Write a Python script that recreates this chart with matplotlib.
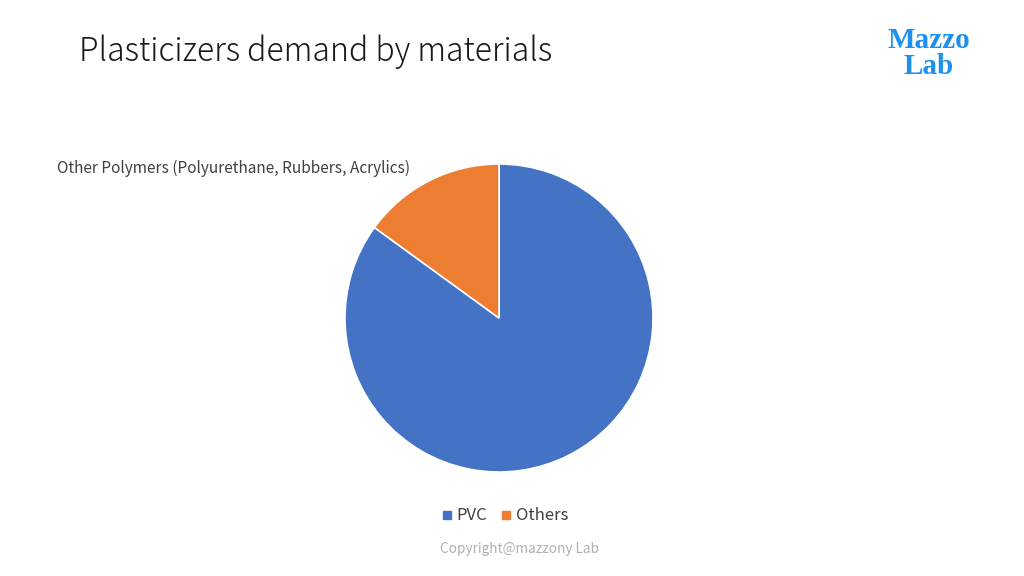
import matplotlib.pyplot as plt
from matplotlib.lines import Line2D

# data
categories = ["PVC", "Others"]
shares = [85, 15]
colors = ["#4472C4", "#ED7D31"]
slice_label = "Other Polymers (Polyurethane, Rubbers, Acrylics)"
title = "Plasticizers demand by materials"

plt.rcParams['font.family'] = ['Noto Sans CJK JP', 'DejaVu Sans']

W, H = 1024, 576
fig = plt.figure(figsize=(W / 100, H / 100), dpi=100)
fig.patch.set_facecolor("white")

# pie axes placed by pixel box
cx, cy, r = 499, 318, 154
ax = fig.add_axes([(cx - r) / W, (H - cy - r) / H, 2 * r / W, 2 * r / H])
ax.pie(shares, colors=colors, startangle=90, counterclock=False,
       wedgeprops=dict(edgecolor="white", linewidth=1.2))
ax.set_xlim(-1, 1)
ax.set_ylim(-1, 1)
ax.set_aspect("equal")
ax.axis("off")

fig.text(79 / W, 1 - 52 / H, title, fontsize=23, color="#1a1a1a",
         va="center", ha="left", fontweight="light")
fig.text(57 / W, 1 - 168 / H, slice_label, fontsize=11.1, color="#404040",
         va="center", ha="left")

# logo
fig.text(929 / W, 1 - 40 / H, "Mazzo", fontsize=21, color="#1E90F0",
         family="Liberation Serif", fontweight="bold", ha="center", va="center")
fig.text(929 / W, 1 - 66 / H, "Lab", fontsize=21, color="#1E90F0",
         family="Liberation Serif", fontweight="bold", ha="center", va="center")

# legend
handles = [Line2D([0], [0], marker="s", linestyle="none", markersize=5.5,
                  markerfacecolor=c, markeredgecolor=c) for c in colors]
fig.legend(handles, categories, loc="center", bbox_to_anchor=(505 / W, 1 - 516 / H),
           ncol=2, frameon=False, fontsize=12, handlelength=0.6,
           handletextpad=0.3, columnspacing=0.8, labelcolor="#404040")

fig.text(519 / W, 1 - 549 / H, "Copyright@mazzony Lab", fontsize=9.8,
         color="#b0b0b0", ha="center", va="center")

fig.savefig("out.png", dpi=100)
